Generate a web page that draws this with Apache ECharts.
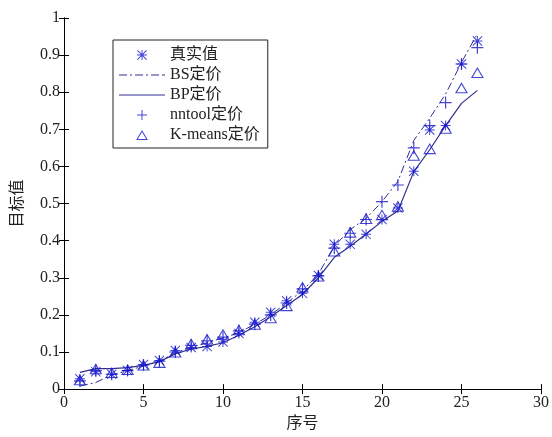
<!DOCTYPE html>
<html>
<head>
<meta charset="utf-8">
<script src="https://cdn.jsdelivr.net/npm/echarts@6/dist/echarts.min.js"></script>
<style>
    html, body { margin: 0; padding: 0; background: #fff; }
    #chart { width: 552px; height: 437px; }
</style>
</head>
<body>
<div id="chart"></div>
<script>
    // 序号 1..26
    var idx = [1, 2, 3, 4, 5, 6, 7, 8, 9, 10, 11, 12, 13, 14, 15, 16, 17, 18, 19, 20, 21, 22, 23, 24, 25, 26];

    var realVal = [0.028, 0.047, 0.040, 0.050, 0.066, 0.077, 0.104, 0.112, 0.115, 0.127, 0.150, 0.180, 0.207,
        0.238, 0.258, 0.306, 0.390, 0.390, 0.417, 0.457, 0.488, 0.587, 0.698, 0.710, 0.876, 0.938];
    var bsPrice = [0.008, 0.018, 0.038, 0.050, 0.062, 0.075, 0.098, 0.112, 0.125, 0.138, 0.152, 0.175, 0.200,
        0.232, 0.265, 0.310, 0.385, 0.430, 0.460, 0.505, 0.560, 0.670, 0.730, 0.795, 0.880, 0.958];
    var bpPrice = [0.045, 0.055, 0.055, 0.058, 0.064, 0.074, 0.095, 0.108, 0.115, 0.125, 0.145, 0.168, 0.195,
        0.225, 0.255, 0.300, 0.355, 0.385, 0.418, 0.452, 0.480, 0.586, 0.645, 0.710, 0.770, 0.805];
    var nnPrice = [0.022, 0.050, 0.040, 0.050, 0.065, 0.075, 0.100, 0.118, 0.130, 0.140, 0.157, 0.175, 0.200,
        0.232, 0.270, 0.305, 0.380, 0.420, 0.457, 0.505, 0.550, 0.650, 0.710, 0.772, 0.876, 0.920];
    var kmPrice = [0.025, 0.055, 0.045, 0.053, 0.065, 0.072, 0.100, 0.122, 0.135, 0.148, 0.160, 0.175, 0.192,
        0.225, 0.275, 0.305, 0.372, 0.423, 0.460, 0.470, 0.493, 0.630, 0.648, 0.703, 0.812, 0.853];

    var names = ['真实值', 'BS定价', 'BP定价', 'nntool定价', 'K-means定价'];

    function pairs(arr) {
        return idx.map(function (x, i) { return [x, arr[i]]; });
    }

    var font = '"Liberation Serif", "Noto Sans CJK SC", serif';
    var markColor = '#1616cc';
    var lineColor = '#32308f';

    // 星号 / 加号 / 空心三角
    var starPath = 'path://M9,0h2v20h-2zM0,9h20v2h-20zM1.4,0L20,18.6L18.6,20L0,1.4zM18.6,0L20,1.4L1.4,20L0,18.6zM7,7h6v6h-6z';
    var plusPath = 'path://M9,0h2v20h-2zM0,9h20v2h-20z';
    var triPath = 'path://M10,0L20,17L0,17z M10,3.4L2.9,15.4L17.1,15.4z';
    // 图例里的线段
    var solidIcon = 'path://M0,0h46v1.2h-46z';
    var dashIcon = 'path://M0,0h8v1h-8zM11,0h2v1h-2zM16,0h8v1h-8zM27,0h2v1h-2zM32,0h8v1h-8zM43,0h3v1h-3z';

    var chart = echarts.init(document.getElementById('chart'));

    var tickStyle = { inside: true, length: 5, lineStyle: { color: '#000' } };
    var lineSt = { color: '#000', width: 1 };

    var option = {
        backgroundColor: '#fff',
        animation: false,
        grid: { left: 64, right: 9, top: 18, bottom: 44 },
        legend: {
            orient: 'vertical',
            left: 113,
            top: 40,
            padding: [7, 8, 5, 6],
            borderColor: '#222',
            borderWidth: 1,
            itemWidth: 46,
            itemHeight: 10,
            itemGap: 4,
            textStyle: { fontFamily: font, fontSize: 16, color: '#222', lineHeight: 16 },
            data: [
                { name: names[0] },
                { name: names[1], icon: dashIcon },
                { name: names[2], icon: solidIcon },
                { name: names[3] },
                { name: names[4] }
            ]
        },
        xAxis: [{
            type: 'value', min: 0, max: 30, interval: 5,
            name: '序号', nameLocation: 'middle', nameGap: 26,
            nameTextStyle: { fontFamily: font, fontSize: 16, color: '#222' },
            axisLine: { lineStyle: lineSt },
            axisTick: tickStyle,
            axisLabel: { fontFamily: font, fontSize: 16, color: '#222', margin: 6 },
            splitLine: { show: false }
        }, {
            type: 'value', min: 0, max: 30, interval: 5, position: 'top',
            axisLine: { lineStyle: lineSt },
            axisTick: tickStyle,
            axisLabel: { show: false },
            splitLine: { show: false }
        }],
        yAxis: [{
            type: 'value', min: 0, max: 1, interval: 0.1,
            name: '目标值', nameLocation: 'middle', nameGap: 38, nameRotate: 90,
            nameTextStyle: { fontFamily: font, fontSize: 16, color: '#222' },
            axisLine: { show: true, lineStyle: lineSt },
            axisTick: tickStyle,
            axisLabel: {
                fontFamily: font, fontSize: 16, color: '#222', margin: 4,
                formatter: function (v) { return String(Math.round(v * 10) / 10); }
            },
            splitLine: { show: false }
        }, {
            type: 'value', min: 0, max: 1, interval: 0.1, position: 'right',
            axisLine: { show: true, lineStyle: lineSt },
            axisTick: tickStyle,
            axisLabel: { show: false },
            splitLine: { show: false }
        }],
        series: [{
            name: names[0], type: 'scatter',
            symbol: starPath, symbolSize: 10, symbolKeepAspect: true,
            itemStyle: { color: markColor },
            data: pairs(realVal), z: 5
        }, {
            name: names[1], type: 'line',
            symbol: 'none',
            lineStyle: { color: lineColor, width: 1, type: [8, 3, 2, 3] },
            itemStyle: { color: lineColor },
            data: pairs(bsPrice)
        }, {
            name: names[2], type: 'line',
            symbol: 'none',
            lineStyle: { color: lineColor, width: 1.2 },
            itemStyle: { color: lineColor },
            data: pairs(bpPrice)
        }, {
            name: names[3], type: 'scatter',
            symbol: plusPath, symbolSize: 12, symbolKeepAspect: true,
            itemStyle: { color: markColor },
            data: pairs(nnPrice), z: 4
        }, {
            name: names[4], type: 'scatter',
            symbol: triPath, symbolSize: 13, symbolKeepAspect: true,
            itemStyle: { color: markColor },
            data: pairs(kmPrice), z: 3
        }]
    };

    chart.setOption(option);
</script>
</body>
</html>
